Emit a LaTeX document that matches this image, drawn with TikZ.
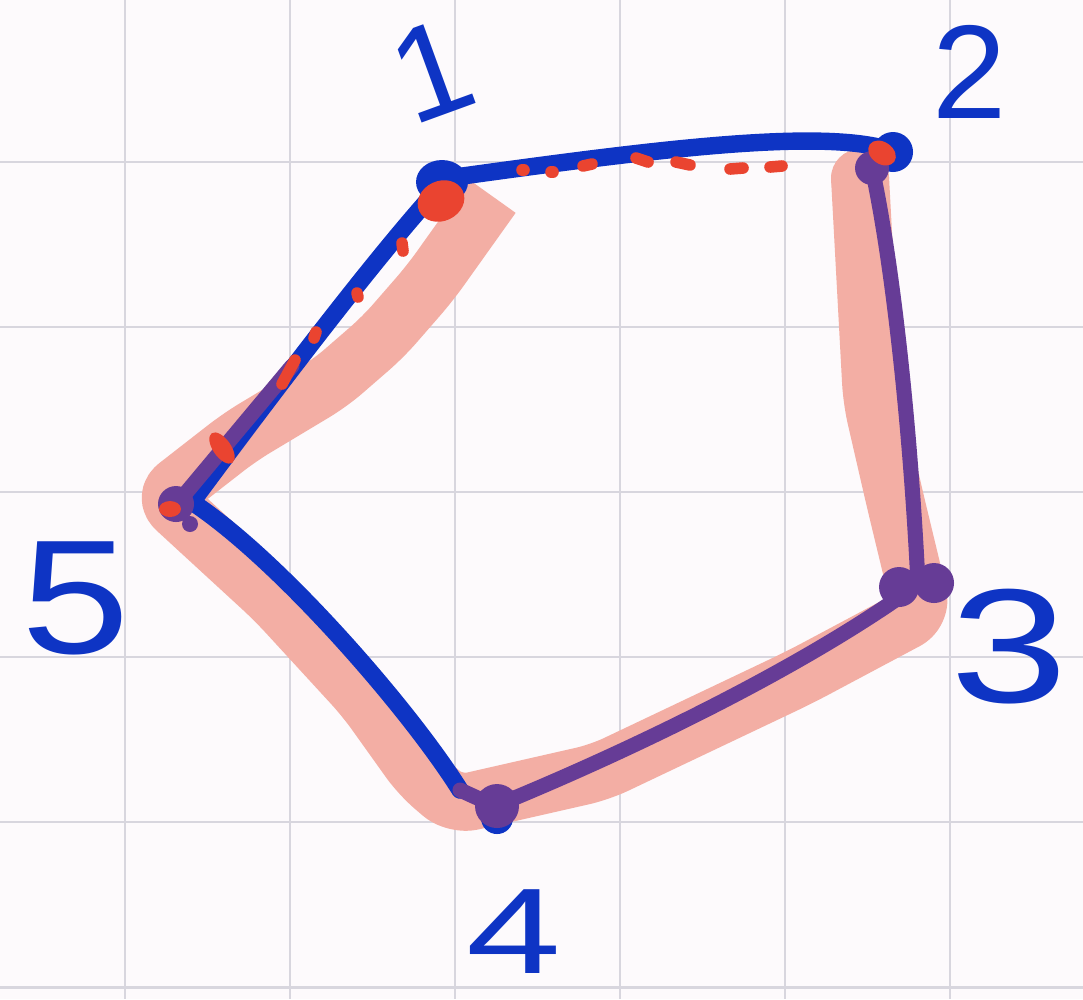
\documentclass[tikz,border=0pt]{standalone}
\usepackage{fontspec}
\setsansfont{Liberation Sans}
\definecolor{penblue}{RGB}{14,52,196}
\definecolor{penpurple}{RGB}{102,60,150}
\definecolor{penred}{RGB}{234,68,48}
\definecolor{hilite}{RGB}{243,174,164}
\definecolor{gridgray}{RGB}{216,214,222}
\definecolor{paper}{RGB}{253,250,252}
\tikzset{
  bluepen/.style={draw=penblue, line width=3pt, line cap=round, line join=round},
  purplepen/.style={draw=penpurple, line width=2.6pt, line cap=round, line join=round},
  reddash/.style={draw=penred, line width=2pt, line cap=round},
  marker/.style={draw=hilite, line width=10pt, line join=round, rounded corners=3pt},
  digit/.style={text=penblue, inner sep=0pt,
    font=\sffamily\fontsize{#1}{#1}\selectfont},
  digit/.default=23,
}

\begin{document}
\begin{tikzpicture}[x=0.0606mm, y=-0.0606mm]
  \fill[paper] (0,0) rectangle (1083,999);
  \useasboundingbox (0,0) rectangle (1083,999);
  % grid paper
  \foreach \g in {125,290,...,950}
    \draw[gridgray, line width=0.5pt] (\g,0) -- (\g,999);
  \foreach \g in {162,327,...,987}
    \draw[gridgray, line width=0.5pt] (0,\g) -- (1083,\g);

  % corners of the pentagon
  \coordinate (v1) at (448,178);
  \coordinate (v2) at (890,150);
  \coordinate (v3) at (918,584);
  \coordinate (v4) at (495,806);
  \coordinate (v5) at (192,502);
  \coordinate (p2) at (872,168);
  \coordinate (c45) at (460,790);
  \coordinate (p51) at (292,366);

  % highlighted route
  \draw[marker, line cap=butt] (492,196) -- (430,283) -- (383,337) -- (330,383)
    -- (240,437) -- (163,497)
    -- (275,600) -- (365,698) -- (420,775) -- (455,805)
    -- (600,772) -- (800,677) -- (922,612)
    -- (895,500) -- (872,400) -- (860,178);
  \fill[hilite] (860,178) circle (29);

  % blue edges
  \draw[bluepen] (v1) .. controls (650,150) and (820,128) .. (v2);
  \draw[bluepen] (v1) .. controls (380,250) and (260,410) .. (v5);
  \draw[bluepen] (v5) .. controls (280,560) and (410,710) .. (c45);

  % purple edges
  \draw[purplepen] (c45) -- (v4);
  \draw[purplepen] (v4) .. controls (620,755) and (800,670) .. (v3);
  \draw[purplepen] (v3) .. controls (910,420) and (892,260) .. (p2);
  \draw[purplepen] (180,500) -- (p51);

  % red dotted marks
  \foreach \xa/\ya/\xb/\yb in {522/170/524/170, 551/172/553/172, 583/166/592/164,
      636/158/648/162, 676/162/690/165, 730/169/743/168, 770/167/782/166,
      402/243/403/251, 357/293/358/297, 316/332/314/338, 295/360/282/384}
    \draw[reddash] (\xa,\ya) -- (\xb,\yb);

  % dots at the corners
  \fill[penblue] (442,182) ellipse (26 and 22);
  \fill[penred, rotate around={25:(441,201)}] (441,201) ellipse (24 and 20);
  \fill[penblue] (893,152) circle (20);
  \fill[penpurple] (p2) circle (17);
  \fill[penred, rotate around={-35:(882,153)}] (882,153) ellipse (15 and 11);
  \fill[penpurple] (899,587) circle (20);
  \fill[penpurple] (934,583) circle (20);
  \fill[penblue] (497,818) circle (16);
  \fill[penpurple] (497,806) circle (22);
  \fill[penpurple] (176,504) circle (18);
  \fill[penpurple] (190,524) circle (8);
  \fill[penred] (170,509) ellipse (11 and 8);
  \fill[penred, rotate around={-55:(222,448)}] (222,448) ellipse (18 and 9);

  % labels
  \node[digit, rotate=20] (l1) at (432,71) {1};
  \node[digit] (l2) at (970,72) {2};
  \node[digit=28, xscale=1.3] (l3) at (1009,647) {3};
  \node[digit=21, xscale=1.4] (l4) at (514,932) {4};
  \node[digit=28, xscale=1.2] (l5) at (76,598) {5};
\end{tikzpicture}
\end{document}
